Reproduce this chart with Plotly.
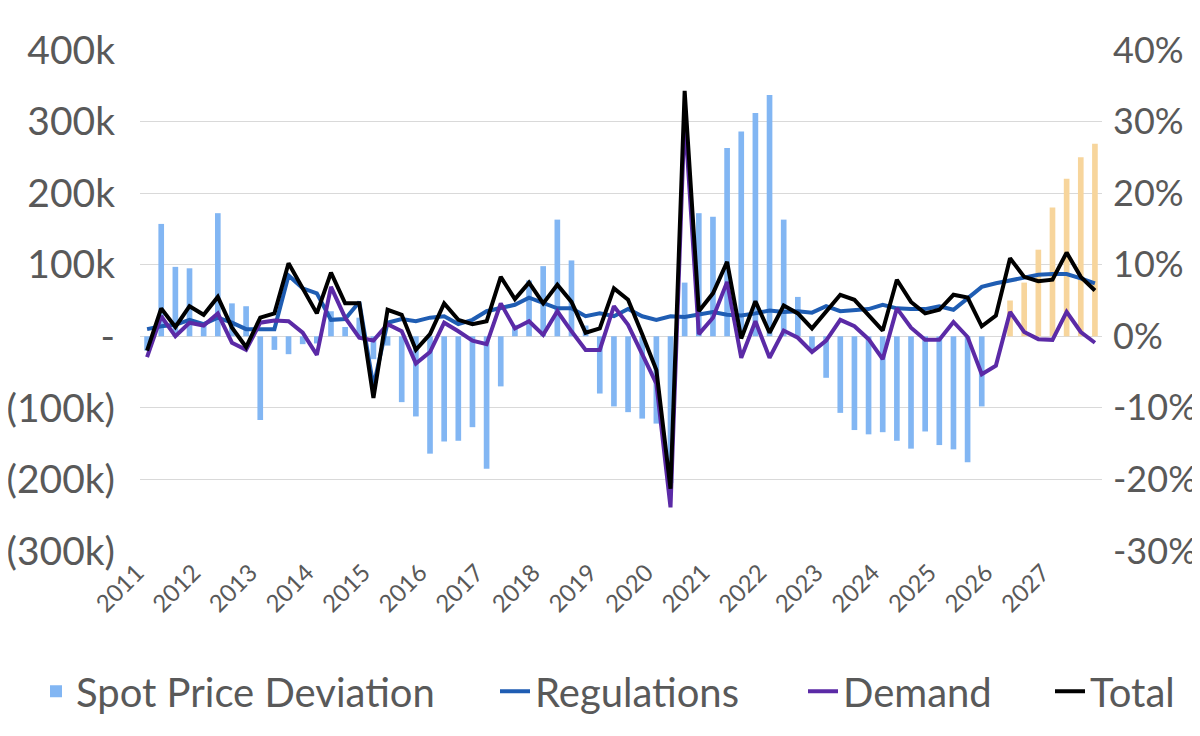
import plotly.graph_objects as go

years = [str(y) for y in range(2011, 2028)]
quarters = [f"{y} Q{q}" for y in years for q in range(1, 5)]
forecast_start = "2026 Q2"

# Spot price deviation (thousands)
spot_dev = [-20, 157, 97, 95, 20, 172, 46, 42, -117, -19,
            -25, -11, -10, 35, 13, 26, -32, -13, -92, -112,
            -164, -147, -146, -127, -185, -70, 16, 78, 98, 163,
            106, 15, -80, -98, -106, -115, -122, -205, 75, 172,
            167, 263, 286, 312, 337, 163, 55, -20, -58, -107,
            -131, -137, -134, -146, -157, -133, -152, -158, -176, -98,
            None, 50, 75, 121, 180, 220, 250, 269]

# Percent series
regulations = [1.0, 1.4, 1.6, 2.3, 1.7, 2.6, 1.9, 1.0, 1.0, 1.0,
               8.5, 6.7, 6.0, 2.3, 2.4, 4.8, -7.0, 1.9, 2.4, 2.1,
               2.6, 2.8, 1.7, 2.3, 3.5, 3.9, 4.4, 5.4, 4.6, 3.9,
               3.9, 2.8, 3.2, 2.8, 3.8, 2.8, 2.3, 2.8, 2.7, 3.0,
               3.4, 3.0, 2.9, 3.2, 3.6, 3.4, 3.5, 3.3, 4.2, 3.5,
               3.7, 3.8, 4.4, 3.9, 3.8, 3.8, 4.2, 3.7, 5.3, 6.9,
               7.4, 7.8, 8.3, 8.6, 8.7, 8.7, 8.1, 7.4]

demand = [-2.9, 2.8, 0.0, 1.9, 1.5, 3.2, -0.9, -1.9, 1.9, 2.2,
          2.1, 0.5, -2.6, 6.9, 2.6, -0.2, -0.6, 1.7, 0.7, -3.8,
          -2.2, 1.9, 0.7, -0.6, -1.1, 4.6, 1.1, 2.1, 0.2, 3.5,
          0.7, -1.9, -1.9, 4.2, 1.6, -2.5, -6.6, -23.9, 31.0, 0.3,
          2.6, 7.6, -3.0, 2.1, -3.0, 0.8, -0.2, -2.2, -0.6, 2.3,
          1.4, -0.4, -3.2, 3.9, 1.2, -0.5, -0.5, 2.0, -0.1, -5.3,
          -4.1, 3.4, 0.6, -0.4, -0.5, 3.4, 0.6, -0.9]

total = [-2.0, 3.9, 1.3, 4.2, 3.0, 5.5, 1.2, -1.5, 2.6, 3.2,
         10.2, 6.7, 3.2, 8.9, 4.6, 4.6, -8.6, 3.7, 3.0, -1.9,
         0.3, 4.6, 2.3, 1.7, 2.1, 8.3, 5.2, 7.5, 4.6, 7.2,
         4.8, 0.5, 1.1, 6.7, 5.1, 0.3, -4.7, -21.3, 34.3, 3.5,
         6.0, 10.4, -0.3, 4.9, 0.5, 4.3, 3.2, 1.1, 3.5, 5.8,
         5.1, 3.0, 0.8, 7.9, 4.8, 3.2, 3.7, 5.8, 5.4, 1.4,
         2.9, 10.9, 8.3, 7.7, 7.9, 11.7, 8.3, 6.4]

left_ticks = [400, 300, 200, 100, 0, -100, -200, -300]
left_labels = ["400k", "300k", "200k", "100k", "-", "(100k)", "(200k)", "(300k)"]
right_ticks = [40, 30, 20, 10, 0, -10, -20, -30]
right_labels = ["40%", "30%", "20%", "10%", "0%", "-10%", "-20%", "-30%"]

HIST = "#82B6F3"
FCST = "#F7D59C"
fs_idx = quarters.index(forecast_start)
bar_colors = [HIST if i < fs_idx else FCST for i in range(len(quarters))]

TXT = "#595959"
FONT = "Lato"

# figure geometry (page body adds an 8px offset)
W, H = 1192, 728
L, R, T, B = 132, 98, 42, 175
PW = W - L - R
PH = H - T - B


def lx(abs_px):
    return (abs_px - 8 - L) / PW


LEG_Y = -(696 - (T + PH)) / PH
legend_style = dict(orientation="h", yanchor="middle", xanchor="left", y=LEG_Y,
                    font=dict(size=40, color=TXT, family=FONT),
                    bgcolor="rgba(0,0,0,0)")

fig = go.Figure()
fig.add_trace(go.Bar(x=quarters, y=spot_dev, name="Spot Price Deviation",
                     marker=dict(color=bar_colors, line=dict(width=0)),
                     width=0.4, yaxis="y", legend="legend"))
fig.add_trace(go.Scatter(x=quarters, y=regulations, name="Regulations", mode="lines",
                         line=dict(color="#1F5DB3", width=4), yaxis="y2", legend="legend2"))
fig.add_trace(go.Scatter(x=quarters, y=demand, name="Demand", mode="lines",
                         line=dict(color="#5B2AA6", width=4), yaxis="y2", legend="legend3"))
fig.add_trace(go.Scatter(x=quarters, y=total, name="Total", mode="lines",
                         line=dict(color="#000000", width=4), yaxis="y2", legend="legend4"))

fig.update_layout(
    width=W, height=H,
    margin=dict(l=L, r=R, t=T, b=B),
    paper_bgcolor="white", plot_bgcolor="white",
    font=dict(family=FONT, color=TXT),
    showlegend=True,
    legend=dict(x=lx(36), **legend_style),
    legend2=dict(x=lx(495), **legend_style),
    legend3=dict(x=lx(803), **legend_style),
    legend4=dict(x=lx(1050), **legend_style),
    xaxis=dict(type="category", range=[-0.5, 67.5], automargin=False,
               tickvals=[f"{y} Q1" for y in years], ticktext=years,
               tickangle=-45, tickfont=dict(size=24, color=TXT),
               ticklabelshift=-10, ticklabelstandoff=2,
               showgrid=False, showline=False, ticks="", zeroline=False),
    yaxis=dict(range=[-300, 400], tickvals=left_ticks, ticktext=left_labels,
               tickfont=dict(size=39, color=TXT), showgrid=True, automargin=False,
               gridcolor="#D9D9D9", gridwidth=1.3, zeroline=False, showline=False,
               ticks="", ticklabelstandoff=24),
    yaxis2=dict(range=[-30, 40], tickvals=right_ticks, ticktext=right_labels,
                overlaying="y", side="right", tickfont=dict(size=36, color=TXT),
                automargin=False, ticklabelstandoff=10,
                showgrid=False, zeroline=False, showline=False, ticks=""),
    bargap=0.5,
)

fig.write_html("out.html")
